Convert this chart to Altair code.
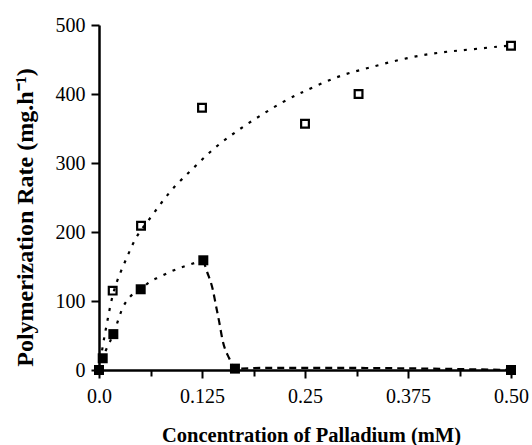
import altair as alt
import pandas as pd

# Measured points
open_x = [0.0166, 0.051, 0.125, 0.25, 0.315, 0.5]
open_y = [115, 209, 380, 357, 400, 470]

filled_x = [0.0, 0.0045, 0.0174, 0.0506, 0.1266, 0.165, 0.5]
filled_y = [0, 17, 52, 117, 159, 2, 0]

# Fitted curve for open squares (dotted)
curve_open_x = [0, 0.005, 0.010, 0.0166, 0.026, 0.036, 0.046, 0.058, 0.077, 0.093, 0.109,
                0.125, 0.142, 0.160, 0.179, 0.199, 0.219, 0.240, 0.250, 0.273, 0.296,
                0.321, 0.346, 0.373, 0.400, 0.427, 0.455, 0.486, 0.500]
curve_open_y = [0, 39, 70, 112, 142, 169, 196, 213, 245, 268, 286,
                305, 324, 340, 356, 371, 386, 399, 404, 417, 428,
                436, 444, 452, 458, 462, 465, 469, 470]

# Curve for filled squares: dotted rising part
curve_fill1_x = [0, 0.0045, 0.0174, 0.0295, 0.0376, 0.0506, 0.062, 0.074, 0.086, 0.096, 0.108, 0.1266]
curve_fill1_y = [0, 17, 52, 92, 106, 117, 128, 135, 142, 147, 152, 159]

# dashed falling part
curve_fill2_x = [0.1266, 0.1307, 0.138, 0.142, 0.146, 0.150, 0.158, 0.165, 0.2, 0.3, 0.4, 0.5]
curve_fill2_y = [159, 144, 117, 93, 69, 43, 17, 2, 3, 3, 2, 0]

x_tick_values = [0, 0.0625, 0.125, 0.1875, 0.25, 0.3125, 0.375, 0.4375, 0.5]
x_tick_labels = ["0.0", "", "0.125", "", "0.25", "", "0.375", "", "0.50"]
y_tick_values = [0, 50, 100, 150, 200, 250, 300, 350, 400, 450, 500]
y_tick_labels = ["0", "", "100", "", "200", "", "300", "", "400", "", "500"]

x_title = "Concentration of Palladium (mM)"
y_title = "Polymerization Rate (mg.h\u207b\u00b9)"


def label_expr(values, labels):
    expr = "''"
    for v, l in reversed(list(zip(values, labels))):
        expr = f"abs(datum.value - {v}) < 1e-9 ? '{l}' : ({expr})"
    return expr


FONT = "Liberation Serif"

xs = alt.Scale(domain=[0, 0.5], nice=False, zero=False)
ys = alt.Scale(domain=[0, 500], nice=False)

x_axis = alt.Axis(
    values=x_tick_values, labelExpr=label_expr(x_tick_values, x_tick_labels),
    title=x_title, grid=False, domainColor="black", domainWidth=2.5,
    tickColor="black", tickWidth=2,
    tickSize={"condition": {"test": "(datum.value * 8) % 1 == 0", "value": 8}, "value": 6},
    labelFont=FONT, labelFontSize=20, labelColor="black", labelPadding=8,
    labelFlush=False, labelOverlap=False,
    titleFont=FONT, titleFontSize=20.5, titleFontWeight="bold", titleColor="black",
    titleBaseline="alphabetic", titleY=71, titleX=212,
)
y_axis = alt.Axis(
    values=y_tick_values, labelExpr=label_expr(y_tick_values, y_tick_labels),
    title=y_title, grid=False, domainColor="black", domainWidth=2.5,
    tickColor="black", tickWidth=2,
    tickSize={"condition": {"test": "datum.value % 100 == 0", "value": 8}, "value": 4},
    labelFont=FONT, labelFontSize=20, labelColor="black", labelPadding=6,
    labelOverlap=False, labelFlush=False,
    titleFont=FONT, titleFontSize=24, titleFontWeight="bold", titleColor="black",
    titleAngle=270, titleAlign="center", titleBaseline="alphabetic",
    titleX=-67, titleY=192,
)

df_open = pd.DataFrame({"x": open_x, "y": open_y})
df_fill = pd.DataFrame({"x": filled_x, "y": filled_y})
df_c1 = pd.DataFrame({"x": curve_open_x, "y": curve_open_y})
df_c2 = pd.DataFrame({"x": curve_fill1_x, "y": curve_fill1_y})
df_c3 = pd.DataFrame({"x": curve_fill2_x, "y": curve_fill2_y})

line_open = alt.Chart(df_c1).mark_line(
    color="black", strokeWidth=2.2, strokeDash=[3, 7], interpolate="basis"
).encode(x=alt.X("x:Q", scale=xs, axis=x_axis), y=alt.Y("y:Q", scale=ys, axis=y_axis))

line_f1 = alt.Chart(df_c2).mark_line(
    color="black", strokeWidth=2.2, strokeDash=[3, 7], interpolate="monotone"
).encode(x=alt.X("x:Q", scale=xs), y=alt.Y("y:Q", scale=ys))

line_f2 = alt.Chart(df_c3).mark_line(
    color="black", strokeWidth=2.2, strokeDash=[7, 5], interpolate="monotone"
).encode(x=alt.X("x:Q", scale=xs), y=alt.Y("y:Q", scale=ys))

pts_open = alt.Chart(df_open).mark_point(
    shape="square", filled=False, color="black", strokeWidth=2.2, size=60, opacity=1
).encode(x=alt.X("x:Q", scale=xs), y=alt.Y("y:Q", scale=ys))

pts_fill = alt.Chart(df_fill).mark_point(
    shape="square", filled=True, color="black", size=100, opacity=1
).encode(x=alt.X("x:Q", scale=xs), y=alt.Y("y:Q", scale=ys))

chart = alt.layer(line_open, line_f1, line_f2, pts_open, pts_fill).properties(
    width=412, height=345,
    autosize=alt.AutoSizeParams(type="none"),
    padding={"left": 99, "top": 25, "right": 21, "bottom": 75},
    background="white",
).configure_view(stroke=None)

chart.save("out.html", embed_options={"renderer": "svg", "actions": False})
